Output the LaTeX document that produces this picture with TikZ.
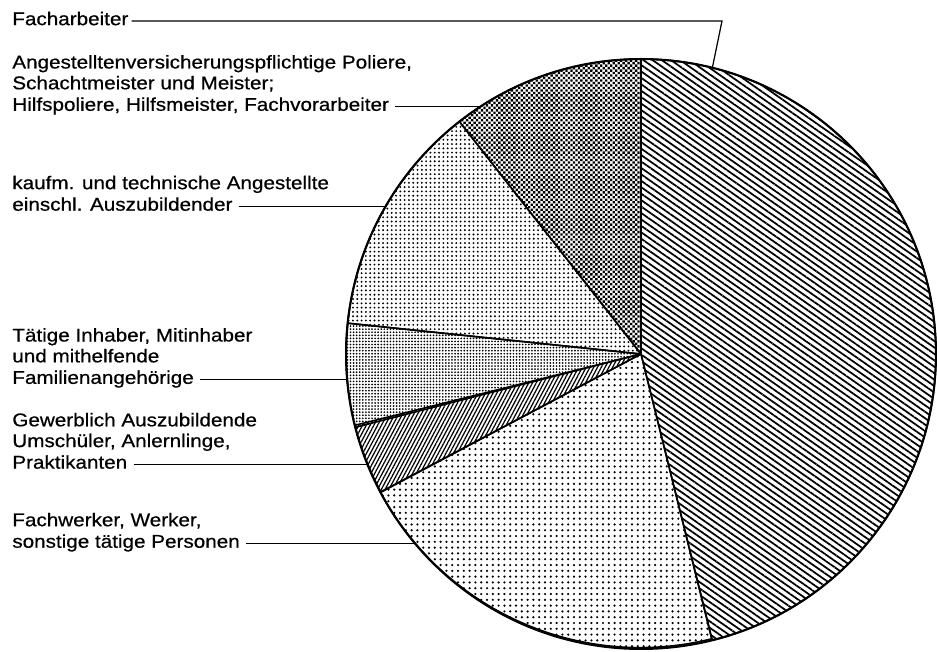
\documentclass[tikz,border=0pt]{standalone}
\usepackage{fontspec}
\setmainfont{Liberation Sans}[FakeStretch=1.12, FakeBold=0.6]
\usetikzlibrary{positioning}
\usetikzlibrary{patterns.meta}
\tikzset{lbl/.style = {font=\fontsize{10.5pt}{11.85pt}\selectfont, inner sep=0pt, anchor=west, execute at begin node=\strut}}
\tikzset{blk/.style = {font=\fontsize{10.5pt}{11.85pt}\selectfont, inner sep=0pt, align=left, execute at end node=\strut}}
\tikzset{leader/.style = {line width=0.7pt}}
\tikzset{slice/.style = {line width=0.9pt, line join=round}}
\tikzset{fach/.style = {pattern={Lines[angle=-35, distance=3pt, line width=1pt]}}}
\tikzset{ang/.style = {pattern={Dots[radius=0.95pt, distance=2pt, angle=45]}}}
\tikzset{kauf/.style = {pattern={Dots[radius=0.6pt, distance=2.45pt]}}}
\tikzset{inh/.style = {pattern={Dots[radius=0.55pt, distance=1.75pt]}}}
\tikzset{azubi/.style = {pattern={Lines[angle=62, distance=1.9pt, line width=0.7pt]}}}
\tikzset{werk/.style = {pattern={Dots[radius=0.7pt, distance=3.3pt]}}}

\begin{document}
\begin{tikzpicture}[x=0.02cm, y=0.02cm]
                \useasboundingbox (0,0) rectangle (937,652);
                \node[circle, minimum size=11.8cm, inner sep=0pt, outer sep=0pt] (pie) at (641,298) {};
                \coordinate (lx) at (12,0);

                \foreach \a/\b/\s in {284/450/fach, 90/128/ang, 128/174/kauf, 174/194.4/inh, 194.4/208.3/azubi, 208.3/284/werk}
                    \draw[slice, \s] (pie.center) -- (pie.\a) arc[start angle=\a, end angle=\b, radius=5.9cm] -- cycle;
                \draw[line width=1.2pt] (pie.center) circle[radius=5.9cm];

                \node[lbl] (fa) at (12,631) {Facharbeiter};
                \coordinate (fk) at (722,631);

                \node[lbl] (anl) at (pie.123.1 -| lx) {Hilfspoliere, Hilfsmeister, Fachvorarbeiter};
                \node[blk, above=0pt of anl.north west, anchor=south west] (an) {Angestelltenversicherungspflichtige Poliere,\\Schachtmeister und Meister;};

                \node[lbl] (kal) at (pie.150.6 -| lx) {einschl. Auszubildender};
                \node[blk, above=0pt of kal.north west, anchor=south west] (ka) {kaufm. und technische Angestellte};

                \node[lbl] (tal) at (pie.185.3 -| lx) {Familienangehörige};
                \node[blk, above=0pt of tal.north west, anchor=south west] (ta) {Tätige Inhaber, Mitinhaber\\und mithelfende};

                \node[lbl] (gel) at (pie.202.9 -| lx) {Praktikanten};
                \node[blk, above=0pt of gel.north west, anchor=south west] (ge) {Gewerblich Auszubildende\\Umschüler, Anlernlinge,};

                \node[lbl] (fwl) at (pie.220.4 -| lx) {sonstige tätige Personen};
                \node[blk, above=0pt of fwl.north west, anchor=south west] (fw) {Fachwerker, Werker,};

                \draw[leader] ([xshift=0.06cm]fa.east) -- (fk) -- (pie.76.5);
                \draw[leader] ([xshift=0.12cm]anl.east) -- (pie.123.1);
                \draw[leader] ([xshift=0.12cm]kal.east) -- (pie.150.6);
                \draw[leader] ([xshift=0.12cm]tal.east) -- (pie.185.3);
                \draw[leader] ([xshift=0.12cm]gel.east) -- (pie.202.9);
                \draw[leader] ([xshift=0.12cm]fwl.east) -- (pie.220.4);
\end{tikzpicture}
\end{document}
